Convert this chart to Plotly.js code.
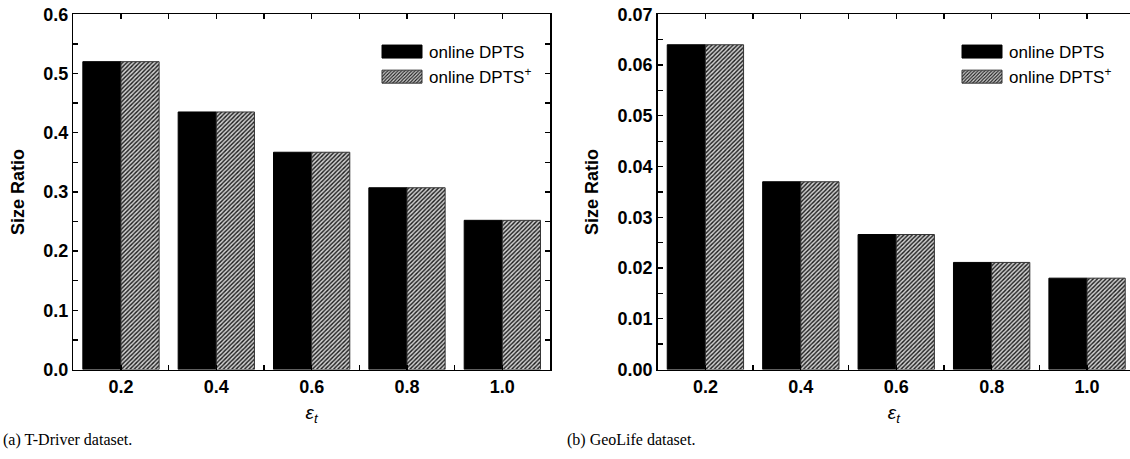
<!DOCTYPE html>
<html>
<head>
<meta charset="utf-8">
<script src="https://cdn.plot.ly/plotly-3.0.1.min.js"></script>
<style>html,body{margin:0;padding:0;background:#fff;}#chart{width:1130px;height:459px;}</style>
</head>
<body>
<div id="chart"></div>
<script>
// ---- data ----
const epsilonT = [0.2, 0.4, 0.6, 0.8, 1.0];
const tdriverOnline = [0.52, 0.435, 0.367, 0.307, 0.252];
const tdriverOnlinePlus = [0.52, 0.435, 0.367, 0.307, 0.252];
const geolifeOnline = [0.064, 0.037, 0.0266, 0.0211, 0.018];
const geolifeOnlinePlus = [0.064, 0.037, 0.0266, 0.0211, 0.018];
const seriesNames = ['online DPTS', 'online DPTS<sup>+</sup>'];
const captions = ['(a) T-Driver dataset.', '(b) GeoLife dataset.'];

const W = 1130, H = 459;
const px = v => v / W;
const py = v => 1 - v / H;

const solid = {color: '#000', line: {color: '#000', width: 1}};
const hatch = {color: '#cccccc', pattern: {shape: '/', fgcolor: '#1a1a1a', bgcolor: '#d0d0d0', size: 3, solidity: 0.45}, line: {color: '#333', width: 1}};

const traces = [
  {type: 'bar', x: epsilonT, y: tdriverOnline, name: seriesNames[0], xaxis: 'x', yaxis: 'y', marker: solid, legend: 'legend'},
  {type: 'bar', x: epsilonT, y: tdriverOnlinePlus, name: seriesNames[1], xaxis: 'x', yaxis: 'y', marker: hatch, legend: 'legend'},
  {type: 'bar', x: epsilonT, y: geolifeOnline, name: seriesNames[0], xaxis: 'x2', yaxis: 'y2', marker: solid, legend: 'legend2'},
  {type: 'bar', x: epsilonT, y: geolifeOnlinePlus, name: seriesNames[1], xaxis: 'x2', yaxis: 'y2', marker: hatch, legend: 'legend2'}
];

const tickFont = {family: 'Liberation Sans, Arial, sans-serif', size: 18, weight: 'bold', color: '#000'};
const commonAxis = {
  showline: true, linewidth: 1.5, linecolor: '#000', ticks: 'inside', ticklen: 5, tickwidth: 1.3, tickcolor: '#000',
  showgrid: false, zeroline: false, tickfont: tickFont, fixedrange: true
};
const xTitle = {text: '<i>ε</i><sub><i>t</i></sub>', font: {family: 'Liberation Sans, Arial, sans-serif', size: 19, color: '#000'}, standoff: 10};
const yTitle = {text: 'Size Ratio', font: {family: 'Liberation Sans, Arial, sans-serif', size: 18, weight: 'bold', color: '#000'}, standoff: 14};

const yDom = [py(369.5), py(14.3)];

const legendBase = {
  xref: 'paper', yref: 'paper', xanchor: 'left', yanchor: 'top', bgcolor: 'rgba(0,0,0,0)', borderwidth: 0,
  font: {family: 'Liberation Sans, Arial, sans-serif', size: 17, color: '#000'}, itemwidth: 50, tracegroupgap: 0
};

const layout = {
  width: W, height: H,
  margin: {l: 0, r: 0, t: 0, b: 0},
  paper_bgcolor: '#fff', plot_bgcolor: '#fff',
  barmode: 'group', bargap: 0.2, bargroupgap: 0,
  font: {family: 'Liberation Sans, Arial, sans-serif', color: '#000'},
  xaxis: Object.assign({}, commonAxis, {domain: [px(73.3), px(550)], range: [0.1, 1.1], tick0: 0.2, dtick: 0.2, tickformat: '.1f', mirror: 'ticks', anchor: 'y', title: xTitle,
    minor: {dtick: 0.1, tick0: 0.1, ticks: 'inside', ticklen: 5, tickwidth: 1.3, tickcolor: '#000'}}),
  yaxis: Object.assign({}, commonAxis, {domain: yDom, range: [0, 0.6], tick0: 0, dtick: 0.1, tickformat: '.1f', mirror: 'ticks', anchor: 'x', title: yTitle,
    minor: {dtick: 0.05, ticks: 'inside', ticklen: 5, tickwidth: 1.3, tickcolor: '#000'}}),
  xaxis2: Object.assign({}, commonAxis, {domain: [px(657.7), 1], range: [0.1, 1.09], tick0: 0.2, dtick: 0.2, tickformat: '.1f', mirror: 'ticks', anchor: 'y2', title: xTitle,
    minor: {dtick: 0.1, tick0: 0.1, ticks: 'inside', ticklen: 5, tickwidth: 1.3, tickcolor: '#000'}}),
  yaxis2: Object.assign({}, commonAxis, {domain: yDom, range: [0, 0.07], tick0: 0, dtick: 0.01, tickformat: '.2f', mirror: false, anchor: 'x2', title: yTitle,
    minor: {dtick: 0.005, ticks: 'inside', ticklen: 5, tickwidth: 1.3, tickcolor: '#000'}}),
  legend: Object.assign({}, legendBase, {x: px(369), y: py(34)}),
  legend2: Object.assign({}, legendBase, {x: px(949), y: py(34)}),
  showlegend: true,
  annotations: [
    {text: captions[0], xref: 'paper', yref: 'paper', x: px(1), y: py(440), xanchor: 'left', yanchor: 'middle', showarrow: false,
     font: {family: 'Liberation Serif, serif', size: 16, color: '#000'}},
    {text: captions[1], xref: 'paper', yref: 'paper', x: px(565), y: py(440), xanchor: 'left', yanchor: 'middle', showarrow: false,
     font: {family: 'Liberation Serif, serif', size: 16, color: '#000'}}
  ]
};

Plotly.newPlot('chart', traces, layout, {staticPlot: true, displayModeBar: false}).then(function (gd) {
  // widen legend swatches to wide rectangles like the original
  gd.querySelectorAll('.legendpoints path').forEach(function (p) {
    p.setAttribute('d', 'M-17,-6.5H23V6.5H-17Z');
  });
});
</script>
</body>
</html>
